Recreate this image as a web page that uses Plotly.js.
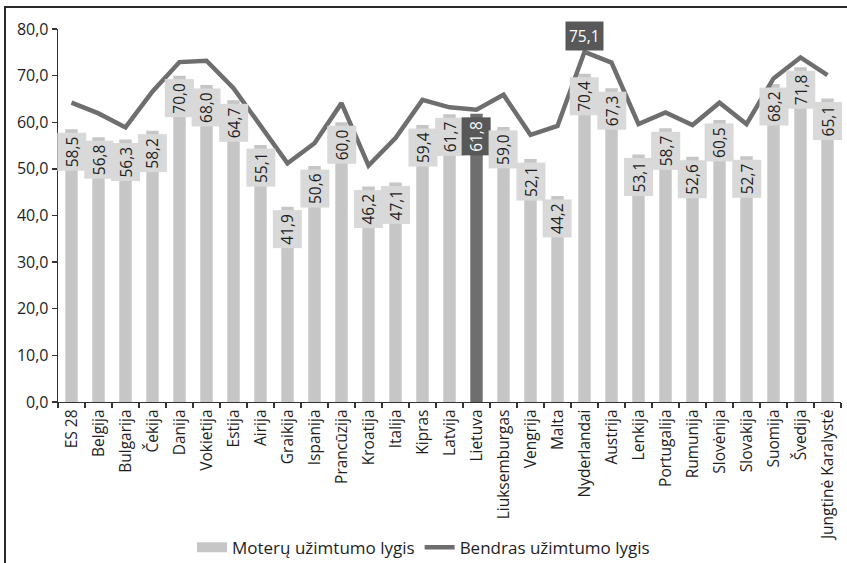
<!DOCTYPE html>
<html>
<head>
<meta charset="utf-8">
<script src="https://cdn.plot.ly/plotly-3.0.1.min.js"></script>
<style>
html,body{margin:0;padding:0;background:#fff;}
#wrap{position:relative;width:847px;height:563px;overflow:hidden;}
#chart{position:absolute;left:0;top:0;width:847px;height:563px;}
#frame{position:absolute;left:4px;top:6px;width:860px;height:600px;border-left:2px solid #2a2a2a;border-top:2px solid #2a2a2a;pointer-events:none;}
</style>
</head>
<body>
<div id="wrap"><div id="chart"></div><div id="frame"></div></div>
<script>
var categories = ["ES 28","Belgija","Bulgarija","Čekija","Danija","Vokietija","Estija","Airija","Graikija","Ispanija","Prancūzija","Kroatija","Italija","Kipras","Latvija","Lietuva","Liuksemburgas","Vengrija","Malta","Nyderlandai","Austrija","Lenkija","Portugalija","Rumunija","Slovėnija","Slovakija","Suomija","Švedija","Jungtinė Karalystė"];
var womenRate = [58.5,56.8,56.3,58.2,70.0,68.0,64.7,55.1,41.9,50.6,60.0,46.2,47.1,59.4,61.7,61.8,59.0,52.1,44.2,70.4,67.3,53.1,58.7,52.6,60.5,52.7,68.2,71.8,65.1];
var totalRate = [64.2,61.9,58.9,66.6,72.9,73.2,67.3,59.1,51.2,55.5,64.1,50.7,56.6,64.8,63.2,62.7,65.9,57.3,59.2,75.1,72.8,59.6,62.1,59.4,64.2,59.6,69.4,73.9,70.1];
var yTicks = [0,10,20,30,40,50,60,70,80];
var highlight = "Lietuva";
var peakLabelCategory = "Nyderlandai";

function fmt(v){ return v.toFixed(1).replace('.', ','); }

var barColors = categories.map(function(c){ return c === highlight ? '#6e6e6e' : '#c6c6c6'; });

var traces = [
  {type:'bar', name:'Moterų užimtumo lygis', x:categories, y:womenRate,
   marker:{color:barColors, line:{width:0}}, width:0.46, hoverinfo:'skip', showlegend:false},
  {type:'scatter', mode:'lines', name:'Bendras užimtumo lygis', x:categories, y:totalRate,
   line:{color:'#6e6e6e', width:4.5}, hoverinfo:'skip', showlegend:false},
  // legend-only entries
  {type:'scatter', mode:'lines', name:'Moterų užimtumo lygis', x:[null], y:[null], line:{color:'#c6c6c6', width:10}, showlegend:true, hoverinfo:'skip'},
  {type:'scatter', mode:'lines', name:'Bendras užimtumo lygis', x:[null], y:[null], line:{color:'#6e6e6e', width:4.5}, showlegend:true, hoverinfo:'skip'}
];

var annotations = categories.map(function(c, i){
  var hl = c === highlight;
  return {x:c, y:womenRate[i], xref:'x', yref:'y', text:fmt(womenRate[i]), textangle:-90,
    showarrow:false, yanchor:'top', xanchor:'center', yshift:-3,
    bgcolor: hl ? '#585858' : '#d9d9d9', borderpad:3,
    font:{family:'Open Sans, sans-serif', size:15.5, color: hl ? '#ffffff' : '#1e1e1e'}};
});
var pk = categories.indexOf(peakLabelCategory);
annotations.push({x:categories[pk], y:totalRate[pk], xref:'x', yref:'y', text:fmt(totalRate[pk]),
  showarrow:false, yanchor:'bottom', xanchor:'center', yshift:1,
  bgcolor:'#585858', borderpad:3, font:{family:'Open Sans, sans-serif', size:15.5, color:'#ffffff'}});

var layout = {
  width:847, height:563,
  margin:{l:57.5, r:5.5, t:29, b:161, autoexpand:false},
  paper_bgcolor:'rgba(0,0,0,0)', plot_bgcolor:'rgba(0,0,0,0)',
  font:{family:'Open Sans, sans-serif', size:15, color:'#1e1e1e'},
  separators:',.',
  bargap:0.54,
  showlegend:true,
  legend:{orientation:'h', xref:'container', yref:'container', x:0.5, xanchor:'center', y:0.027, yanchor:'middle',
    font:{size:17, color:'#1e1e1e'}, itemwidth:30, traceorder:'normal', bgcolor:'rgba(0,0,0,0)'},
  xaxis:{type:'category', range:[-0.5, categories.length-0.5], showgrid:false, zeroline:false,
    showline:true, linecolor:'#333', linewidth:1.3, ticks:'outside', tickson:'boundaries',
    ticklen:5, tickcolor:'#333', tickwidth:1.3, tickangle:-90, tickfont:{size:15.5, color:'#1e1e1e'}, fixedrange:true, automargin:false},
  yaxis:{range:[0,80], tickvals:yTicks, tickformat:'.1f', showgrid:false, zeroline:false,
    showline:true, linecolor:'#333', linewidth:1.3, ticks:'outside', ticklen:5, tickcolor:'#333', tickwidth:1.3,
    tickfont:{size:16, color:'#1e1e1e'}, fixedrange:true, automargin:false},
  annotations:annotations
};

Plotly.newPlot('chart', traces, layout, {staticPlot:true, displayModeBar:false});
</script>
</body>
</html>
